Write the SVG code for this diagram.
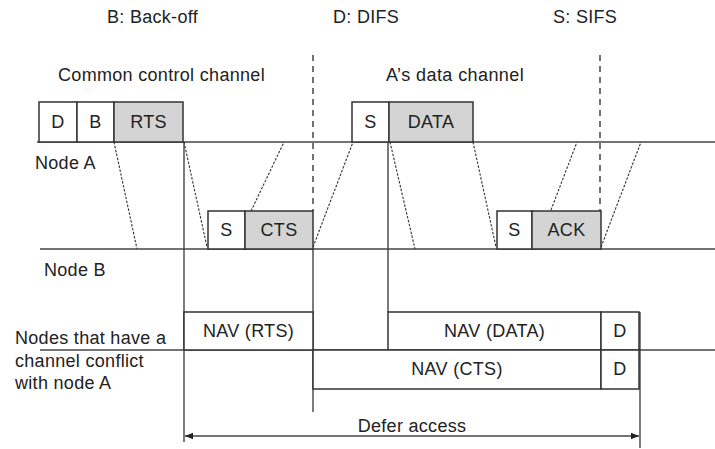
<svg xmlns="http://www.w3.org/2000/svg" width="715" height="449" viewBox="0 0 715 449">
<defs>
<style>
text{font-family:"Liberation Sans",Arial,sans-serif;font-size:18px;letter-spacing:0.3px;fill:#222}
.c{text-anchor:middle}
.box{fill:#fff;stroke:#333;stroke-width:1.5}
.g{fill:#d4d4d4;stroke:#333;stroke-width:1.5}
.ln{stroke:#444;stroke-width:1.4;fill:none}
.vd{stroke:#444;stroke-width:1.5;stroke-dasharray:6,5;fill:none}
.sd{stroke:#333;stroke-width:1.1;stroke-dasharray:2.5,1.5;fill:none}
</style>
<marker id="ar" viewBox="0 0 10 10" refX="10" refY="5" markerWidth="8" markerHeight="8" markerUnits="userSpaceOnUse" orient="auto-start-reverse">
<path d="M0,1 L10,5 L0,9 Z" fill="#222"/>
</marker>
</defs>
<g id="legend">
<text x="107" y="23">B: Back-off</text>
<text x="333" y="23">D: DIFS</text>
<text x="553" y="23">S: SIFS</text>
<text x="58" y="81" textLength="207" lengthAdjust="spacing">Common control channel</text>
<text x="386" y="81" textLength="138" lengthAdjust="spacing">A’s data channel</text>
<text x="35" y="169">Node A</text>
<text x="44" y="276">Node B</text>
<text x="15" y="344">Nodes that have a</text>
<text x="15" y="367">channel conflict</text>
<text x="15" y="389">with node A</text>
</g>
<g id="connectors">
<line class="ln" x1="37" y1="142" x2="715" y2="142"/>
<line class="ln" x1="40" y1="249" x2="715" y2="249"/>
<line class="ln" x1="40" y1="350" x2="715" y2="350"/>
<line class="ln" x1="184" y1="142" x2="184" y2="442"/>
<line class="ln" x1="313" y1="249" x2="313" y2="412"/>
<line class="ln" x1="388" y1="142" x2="388" y2="312"/>
<line class="ln" x1="640" y1="312" x2="640" y2="448"/>
<line class="vd" x1="313" y1="55" x2="313" y2="211"/>
<line class="vd" x1="600" y1="55" x2="600" y2="211"/>
<line class="sd" x1="114" y1="142" x2="137" y2="249"/>
<line class="sd" x1="184" y1="142" x2="207" y2="247"/>
<line class="sd" x1="251" y1="211" x2="284" y2="142"/>
<line class="sd" x1="313" y1="247" x2="353" y2="142"/>
<line class="sd" x1="390" y1="142" x2="415" y2="249"/>
<line class="sd" x1="473" y1="142" x2="496" y2="247"/>
<line class="sd" x1="551" y1="210" x2="577" y2="142"/>
<line class="sd" x1="601" y1="247" x2="641" y2="142"/>
<line class="ln" x1="185" y1="436" x2="639" y2="436" marker-start="url(#ar)" marker-end="url(#ar)"/>
<text class="c" x="412" y="432">Defer access</text>
</g>
<g id="D1"><rect class="box" x="39" y="102" width="38" height="40"/><text class="c" x="58" y="128">D</text></g>
<g id="B1"><rect class="box" x="77" y="102" width="37" height="40"/><text class="c" x="95.5" y="128">B</text></g>
<g id="RTS"><rect class="g" x="114" y="102" width="69" height="40"/><text class="c" x="148.5" y="128">RTS</text></g>
<g id="S1"><rect class="box" x="208" y="211" width="37" height="38"/><text class="c" x="226.5" y="236">S</text></g>
<g id="CTS"><rect class="g" x="245" y="211" width="68" height="38"/><text class="c" x="279" y="236">CTS</text></g>
<g id="S2"><rect class="box" x="352" y="102" width="37" height="40"/><text class="c" x="370.5" y="128">S</text></g>
<g id="DATA"><rect class="g" x="389" y="102" width="84" height="40"/><text class="c" x="431" y="128">DATA</text></g>
<g id="S3"><rect class="box" x="497" y="211" width="35" height="38"/><text class="c" x="514.5" y="236">S</text></g>
<g id="ACK"><rect class="g" x="532" y="211" width="69" height="38"/><text class="c" x="566.5" y="236">ACK</text></g>
<g id="NAVRTS"><rect class="box" x="184" y="312" width="129" height="38"/><text class="c" x="248.5" y="337">NAV (RTS)</text></g>
<g id="NAVDATA"><rect class="box" x="388" y="312" width="213" height="38"/><text class="c" x="494.5" y="337">NAV (DATA)</text></g>
<g id="D2"><rect class="box" x="601" y="312" width="38" height="38"/><text class="c" x="620" y="337">D</text></g>
<g id="NAVCTS"><rect class="box" x="313" y="350" width="288" height="39"/><text class="c" x="457" y="375">NAV (CTS)</text></g>
<g id="D3"><rect class="box" x="601" y="350" width="38" height="39"/><text class="c" x="620" y="375">D</text></g>
</svg>
